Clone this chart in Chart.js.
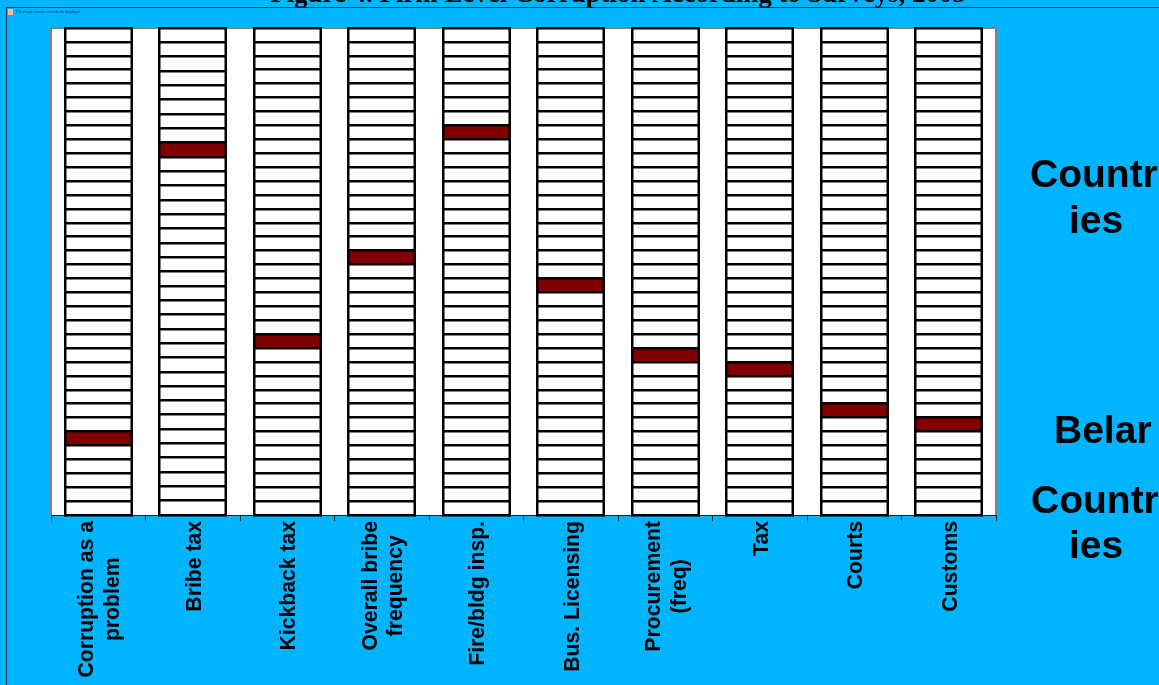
<!DOCTYPE html>
<html>
<head>
<meta charset="utf-8">
<title>Firm Level Corruption</title>
<script src="https://cdn.jsdelivr.net/npm/chart.js@4"></script>
<style>
  html, body { margin: 0; padding: 0; background: #00b4ff; overflow: hidden; }
  canvas { display: block; }
</style>
</head>
<body>
<canvas id="myChart" width="1159" height="685"></canvas>
<script>
// Datos
const categories = ['Corruption as a|problem', 'Bribe tax', 'Kickback tax', 'Overall bribe|frequency', 'Fire/bldg insp.',
  'Bus. Licensing', 'Procurement|(freq)', 'Tax', 'Courts', 'Customs'];
const countriesBelow = [5, 25, 12, 18, 27, 16, 11, 10, 7, 6];
const belarus = [1, 1, 1, 1, 1, 1, 1, 1, 1, 1];
const countriesAbove = [29, 8, 22, 16, 7, 18, 23, 24, 27, 28];
const titleText = 'Figure 4. Firm Level Corruption According to Surveys, 2005';
const noImageText = 'The image cannot currently be displayed.';

const BLUE = '#00b4ff';
const RED = '#800000';

const totals = categories.map((c, i) => countriesBelow[i] + belarus[i] + countriesAbove[i]);
const rows = Math.max(...totals);

// 100% stacked, one dataset per row, every row is one country
const datasets = [];
for (let r = 0; r < rows; r++) {
  datasets.push({
    label: 'Row ' + (r + 1),
    data: totals.map(t => r < t ? 100 / t : null),
    backgroundColor: countriesBelow.map(b => r === b ? RED : '#ffffff'),
    borderWidth: 0,
    barPercentage: 0.725,
    categoryPercentage: 1
  });
}

const decorations = {
  id: 'decorations',
  beforeDraw(chart) {
    const c = chart.ctx, a = chart.chartArea;
    c.save();
    c.fillStyle = BLUE;
    c.fillRect(0, 0, chart.width, chart.height);

    // marco de la imagen que no carga
    c.strokeStyle = '#003a5c';
    c.lineWidth = 1;
    c.strokeRect(6.5, 7.5, 1300, 900);
    c.fillStyle = '#f4b8a8';
    c.fillRect(8, 9, 5, 6);
    c.fillStyle = '#12385a';
    c.font = '3.6px "Liberation Sans"';
    c.textBaseline = 'middle';
    c.fillText(noImageText, 15.5, 11.5);

    // titulo cortado arriba
    c.fillStyle = '#000000';
    c.font = 'bold 26.9px "Liberation Serif"';
    c.textAlign = 'center';
    c.textBaseline = 'alphabetic';
    c.fillText(titleText, 618, 1.5);

    // fondo del area
    c.fillStyle = '#ffffff';
    c.fillRect(a.left, a.top, a.right - a.left, a.bottom - a.top);
    c.restore();
  },
  afterDraw(chart) {
    const c = chart.ctx, a = chart.chartArea, x = chart.scales.x;
    c.save();
    c.strokeStyle = '#808080';
    c.lineWidth = 2;
    c.beginPath();
    c.moveTo(a.left, a.bottom);
    c.lineTo(a.left, a.top);
    c.lineTo(a.right, a.top);
    c.lineTo(a.right, a.bottom);
    c.stroke();
    c.strokeStyle = '#202020';
    c.lineWidth = 1;
    c.beginPath();
    c.moveTo(a.left, a.bottom + 0.5);
    c.lineTo(a.right, a.bottom + 0.5);
    c.stroke();

    // contorno negro de cada fila, sobre las posiciones de las barras
    c.fillStyle = '#000000';
    datasets.forEach((ds, r) => {
      chart.getDatasetMeta(r).data.forEach((bar, i) => {
        if (ds.data[i] === null) return;
        const l = Math.round(bar.x - bar.width / 2);
        c.fillRect(l, Math.round(bar.y - 1.25), Math.round(bar.width), 2.5);
      });
    });
    chart.getDatasetMeta(0).data.forEach(bar => {
      const l = Math.round(bar.x - bar.width / 2), w = Math.round(bar.width);
      c.fillRect(l, a.top - 1, 2.5, a.bottom - a.top + 2.5);
      c.fillRect(l + w - 2.5, a.top - 1, 2.5, a.bottom - a.top + 2.5);
      c.fillRect(l, a.bottom - 1, w, 2.5);
    });

    // etiquetas verticales centradas
    c.font = 'bold 21.2px "Liberation Sans"';
    c.textAlign = 'center';
    c.textBaseline = 'middle';
    categories.forEach((name, i) => {
      const lines = name.split('|');
      const w = Math.max(...lines.map(l => c.measureText(l).width));
      const px = x.getPixelForTick(i);
      lines.forEach((l, k) => {
        c.save();
        c.translate(px + 2 + (k - (lines.length - 1) / 2) * 25.5, 521 + w / 2);
        c.rotate(-Math.PI / 2);
        c.fillText(l, 0, 0);
        c.restore();
      });
    });

    // leyenda, se corta en el borde derecho
    c.font = 'bold 39px "Liberation Sans"';
    c.textAlign = 'left';
    c.textBaseline = 'alphabetic';
    c.fillText('Countries'.slice(0, 6), 1030, 187);
    c.fillText('Countries'.slice(6), 1069, 233);
    c.fillText('Belarus'.slice(0, 5), 1054, 443);
    c.fillText('Countries'.slice(0, 6), 1031, 513);
    c.fillText('Countries'.slice(6), 1069, 558);
    c.restore();
  }
};

new Chart(document.getElementById('myChart'), {
  type: 'bar',
  data: { labels: categories, datasets },
  plugins: [decorations],
  options: {
    responsive: false,
    animation: false,
    layout: { padding: { top: 28, left: 51, right: 163, bottom: 0 } },
    plugins: { legend: { display: false }, title: { display: false }, tooltip: { enabled: false } },
    scales: {
      x: {
        stacked: true,
        offset: true,
        border: { display: false },
        grid: { drawOnChartArea: false, drawTicks: true, tickLength: 6, color: '#202020', offset: true },
        ticks: { display: false },
        afterFit(scale) { scale.height = 170; }
      },
      y: { stacked: true, display: false, min: 0, max: 100 }
    }
  }
});
</script>
</body>
</html>
